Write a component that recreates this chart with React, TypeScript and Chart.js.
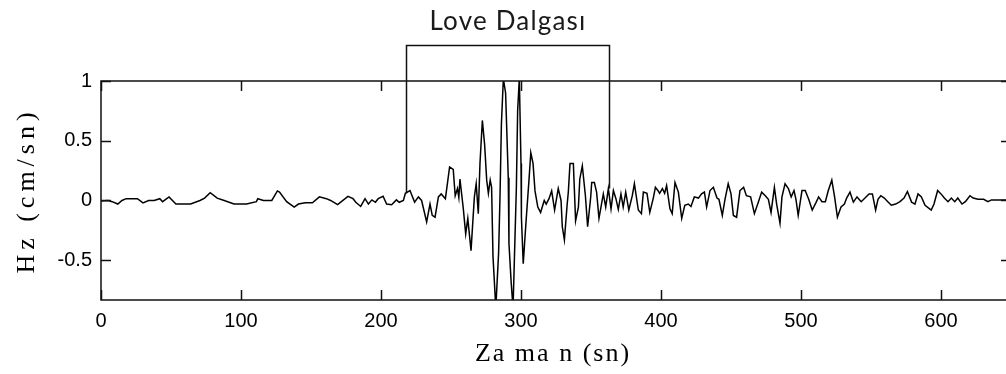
import React, { useEffect, useRef } from "react";
import { Chart, registerables } from "chart.js";

Chart.register(...registerables);

// Time (s) of each sample
const timeSec = [
  0, 5, 8, 12, 15, 18, 26, 30, 34, 38,
  42, 44, 48.6, 53.5, 57, 64, 70.7, 74, 78, 83,
  88, 95, 104, 111, 112, 116, 122, 126, 127.5, 132.6,
  138, 141, 146, 151, 156, 161, 164, 169, 176.4, 180,
  182, 185.5, 188.6, 191, 193.5, 196, 198, 201.5, 204, 207.6,
  211, 213, 216, 217.4, 220.7, 224, 226.7, 229, 232.6, 235,
  236.6, 238.6, 241, 243, 246, 249, 251.6, 253, 254.6, 255.6,
  256.4, 258.8, 260.5, 262, 264.3, 266.7, 268, 269.5, 270.7, 272.4,
  274, 275.5, 276.7, 278, 279, 280, 282, 284, 285, 286,
  287.4, 289, 290.9, 291.4, 293, 294.3, 295, 296.7, 297.6, 298.8,
  300, 300.3, 301.6, 303, 304, 305.7, 307, 308.6, 310, 312,
  314, 316.6, 318, 320, 321.9, 324, 326.6, 328.6, 329.5, 331,
  333, 333.8, 335, 337.4, 339, 341, 342, 343.8, 346, 347.6,
  349.8, 350.5, 352.4, 354, 355.7, 358.8, 360.5, 362.4, 364.3, 366,
  367.8, 369.5, 371.4, 373, 374.8, 377, 379.5, 381, 383.8, 386,
  387.4, 390, 392, 394.5, 396, 398, 399, 401, 402.6, 404,
  406.4, 408, 410, 412.4, 414.8, 417, 419.5, 421.4, 423.8, 426.7,
  429, 431, 432.6, 435, 437.4, 440, 441.4, 443.8, 445.7, 448,
  450, 451.7, 454, 456.4, 459, 461, 464, 466.7, 469.5, 471.9,
  474.5, 476.7, 478.6, 481, 482.6, 485, 486.4, 488.6, 491, 493,
  495, 496.4, 498, 500.7, 503, 505.5, 508, 510.6, 512.6, 515,
  517.4, 519.5, 522, 524, 526, 528.6, 531, 532.6, 535, 537.4,
  540, 543, 545.7, 548.6, 551, 553.3, 555, 557, 559.5, 562,
  564.5, 567.6, 570.7, 573.6, 576, 579, 581.4, 583.6, 586, 588.6,
  593, 595, 597.6, 600, 602.4, 605, 607.4, 609.8, 612, 615,
  617.4, 620.7, 623, 626.4, 630.5, 633.5, 636, 646, 650,
];

// Amplitude Hz (cm/sn) at each sample
const amplitude = [
  -0.005, 0, -0.01, -0.03, 0, 0.015, 0.015, -0.02, 0, 0,
  0.015, -0.01, 0.03, -0.03, -0.03, -0.03, 0, 0.02, 0.065, 0.02,
  0, -0.03, -0.03, -0.01, 0.015, 0, 0, 0.08, 0.07, -0.01,
  -0.055, -0.03, -0.02, -0.02, 0.03, 0.015, 0, -0.035, 0.035, 0.015,
  -0.015, -0.05, 0.015, -0.03, 0.005, -0.015, 0.015, 0.035, -0.03, -0.035,
  0.005, -0.015, 0, 0.06, 0.083, -0.014, 0.03, 0, -0.18, -0.03,
  -0.125, -0.14, 0.03, 0.055, 0.015, 0.28, 0.26, 0.04, 0.1, 0.025,
  0.18, -0.07, -0.28, -0.15, -0.42, 0.03, 0.14, -0.11, 0.31, 0.67,
  0.47, 0.17, 0.06, 0.17, 0.11, -0.47, -0.9, -0.44, 0.03, 0.64,
  1.02, 0.9, 0.19, -0.36, -0.69, -0.9, -0.61, 0.11, 0.75, 1.02,
  0.31, -0.14, -0.53, -0.28, -0.11, 0.17, 0.4, 0.31, 0.08, -0.055,
  -0.1, 0, -0.03, 0.015, 0.08, -0.08, 0.1, 0, -0.22, -0.33,
  -0.03, 0.07, 0.31, 0.31, -0.17, -0.055, 0.18, 0.29, 0.04, -0.22,
  0.03, 0.15, 0.15, 0.07, -0.15, 0.055, -0.055, 0.1, -0.07, 0.083,
  0.015, -0.075, 0.055, -0.055, 0.07, -0.08, 0.04, 0.14, -0.08, -0.11,
  0.07, 0.06, -0.1, 0.02, 0.11, 0.08, 0.06, 0.1, 0.06, 0.125,
  -0.07, -0.11, 0.15, 0.07, -0.15, -0.04, -0.03, -0.05, 0.03, 0.02,
  0.055, 0.07, -0.055, 0.083, 0.11, 0.02, 0.01, -0.125, 0.01, 0.14,
  0.055, -0.125, -0.14, 0.083, 0.11, 0.04, 0.03, -0.11, -0.014, 0.07,
  0.04, 0.01, -0.1, 0.11, -0.03, -0.19, 0.03, 0.14, 0.1, 0.03,
  0.083, 0.01, -0.125, 0.083, 0.083, 0.01, -0.08, -0.02, 0.03, -0.01,
  -0.01, 0.083, 0.17, 0.03, -0.14, -0.055, -0.03, 0.02, 0.07, -0.014,
  0.03, -0.01, 0.02, 0.055, 0.055, -0.08, 0.01, 0.04, 0.02, -0.01,
  -0.04, -0.03, -0.01, 0.02, 0.075, -0.014, -0.03, 0.055, 0.03, -0.04,
  -0.08, -0.03, 0.083, 0.055, 0.02, -0.01, 0.02, -0.01, 0.02, -0.03,
  -0.01, 0.04, 0.02, 0.01, 0.01, -0.01, 0.005, 0.005, 0.005,
];

const xTickValues = [0, 100, 200, 300, 400, 500, 600];
const yTickValues = [-0.5, 0, 0.5, 1];
const xRange = [0, 650];
const yRange = [-0.833, 1];

const xTitle = "Za ma n (sn)";
const yTitle = "Hz (cm/sn)";
const loveWaveLabel = "Love Dalgası";
const loveWaveSpan = [217.5, 363];
const loveWaveFoot = [0.06, 0.1];

const decorPlugin = {
  id: "decor",
  afterDraw(chart: any) {
    const { ctx, chartArea: a, scales } = chart;
    const x = scales.x;
    const y = scales.y;
    ctx.save();
    ctx.strokeStyle = "#111";
    ctx.lineWidth = 1.5;
    ctx.strokeRect(a.left, a.top, a.right - a.left, a.bottom - a.top);

    const L = 10;
    ctx.beginPath();
    x.ticks.forEach((t: any) => {
      const px = Math.round(x.getPixelForValue(t.value)) + 0.5;
      ctx.moveTo(px, a.bottom);
      ctx.lineTo(px, a.bottom - L);
      ctx.moveTo(px, a.top);
      ctx.lineTo(px, a.top + L);
    });
    y.ticks.forEach((t: any) => {
      const py = Math.round(y.getPixelForValue(t.value)) + 0.5;
      ctx.moveTo(a.left, py);
      ctx.lineTo(a.left + L, py);
      ctx.moveTo(a.right, py);
      ctx.lineTo(a.right - L, py);
    });
    ctx.stroke();

    // Love wave bracket
    const bx1 = Math.round(x.getPixelForValue(loveWaveSpan[0])) + 0.5;
    const bx2 = Math.round(x.getPixelForValue(loveWaveSpan[1])) + 0.5;
    const topY = a.top - 35.5;
    ctx.beginPath();
    ctx.moveTo(bx1, y.getPixelForValue(loveWaveFoot[0]));
    ctx.lineTo(bx1, topY);
    ctx.lineTo(bx2, topY);
    ctx.lineTo(bx2, y.getPixelForValue(loveWaveFoot[1]));
    ctx.stroke();

    ctx.fillStyle = "#1a1a1a";
    ctx.font = "26px Lato";
    (ctx as any).letterSpacing = "1.2px";
    ctx.textAlign = "center";
    ctx.textBaseline = "alphabetic";
    ctx.fillText(loveWaveLabel, (bx1 + bx2) / 2, 30);

    // Axis titles
    ctx.fillStyle = "#000";
    ctx.font = '26px "Liberation Serif"';
    (ctx as any).letterSpacing = "2px";
    ctx.textBaseline = "middle";
    ctx.fillText(xTitle, 553, 354);
    (ctx as any).letterSpacing = "5px";
    ctx.translate(27, (a.top + a.bottom) / 2);
    ctx.rotate(-Math.PI / 2);
    ctx.fillText(yTitle, 0, 0);
    ctx.restore();
  },
};

export default function App() {
  const ref = useRef<HTMLCanvasElement | null>(null);

  useEffect(() => {
    if (!ref.current) return;
    const points = timeSec.map((t, i) => ({ x: t, y: amplitude[i] }));
    const tickFont = { family: '"Liberation Sans", Arial, sans-serif', size: 20 };
    const chart = new Chart(ref.current, {
      type: "line",
      data: {
        datasets: [
          {
            data: points,
            borderColor: "#000",
            borderWidth: 1.5,
            pointRadius: 0,
            tension: 0,
            fill: false,
            clip: 0,
          } as any,
        ],
      },
      options: {
        animation: false,
        responsive: false,
        maintainAspectRatio: false,
        events: [],
        layout: { padding: { top: 81, right: 1, left: 0, bottom: 0 } },
        plugins: { legend: { display: false }, tooltip: { enabled: false } },
        scales: {
          x: {
            type: "linear",
            min: xRange[0],
            max: xRange[1],
            grid: { display: false, drawTicks: false },
            border: { display: false },
            afterFit: (s: any) => {
              s.height = 74;
            },
            afterBuildTicks: (s: any) => {
              s.ticks = xTickValues.map((v) => ({ value: v }));
            },
            ticks: {
              autoSkip: false,
              maxRotation: 0,
              padding: 9,
              color: "#000",
              font: tickFont,
              callback: (v: any) => String(v),
            },
          },
          y: {
            type: "linear",
            min: yRange[0],
            max: yRange[1],
            grid: { display: false, drawTicks: false },
            border: { display: false },
            afterFit: (s: any) => {
              s.width = 101;
            },
            afterBuildTicks: (s: any) => {
              s.ticks = yTickValues.map((v) => ({ value: v }));
            },
            ticks: {
              autoSkip: false,
              padding: 9,
              color: "#000",
              font: tickFont,
              callback: (v: any) => String(v),
            },
          },
        },
      },
      plugins: [decorPlugin],
    });
    return () => chart.destroy();
  }, []);

  return (
    <div style={{ position: "absolute", left: 0, top: 0, width: 1006, height: 374, overflow: "hidden", background: "#fff" }}>
      <canvas ref={ref} width={1012} height={374} style={{ display: "block" }} />
    </div>
  );
}
